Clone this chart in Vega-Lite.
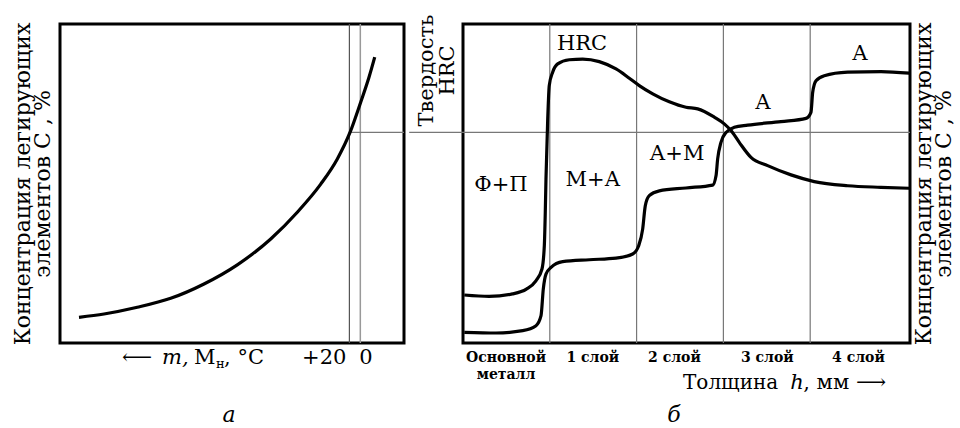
{
  "$schema": "https://vega.github.io/schema/vega-lite/v6.json",
  "padding": {"left": 9, "top": 12, "right": 0, "bottom": 0},
  "spacing": 0,
  "config": {
    "font": "DejaVu Serif",
    "view": {"stroke": "black", "strokeWidth": 3},
    "axis": {"domain": false, "ticks": false, "grid": false, "labelColor": "black", "titleColor": "black", "titleFontWeight": "normal", "titleFont": "DejaVu Serif", "labelFont": "DejaVu Serif"},
    "text": {"font": "DejaVu Serif", "color": "black"}
  },
  "hconcat": [
    {
      "width": 344,
      "height": 319,
      "layer": [
        {
          "data": {"values": [{}]},
          "mark": {"type": "rule", "color": "#555", "strokeWidth": 1.2},
          "encoding": {"x": {"datum": 20, "type": "quantitative", "scale": {"domain": [550, -80], "nice": false, "zero": false}, "axis": null}}
        },
        {
          "data": {"values": [{}]},
          "mark": {"type": "rule", "color": "#999", "strokeWidth": 1.5},
          "encoding": {"x": {"datum": 0, "type": "quantitative", "axis": null}}
        },
        {
          "data": {"values": [{}]},
          "mark": {"type": "rule", "color": "#777", "strokeWidth": 1.2},
          "encoding": {
            "x": {"datum": 20, "type": "quantitative", "axis": null},
            "x2": {"datum": -80},
            "y": {"datum": 66, "type": "quantitative"}
          }
        },
        {
          "data": {"values": [
            {"t": 515.2, "c": 8.06}, {"t": 469.4, "c": 9.09}, {"t": 408.4, "c": 11.19}, {"t": 347.3, "c": 14.0},
            {"t": 286.3, "c": 18.5}, {"t": 225.3, "c": 24.5}, {"t": 164.1, "c": 32.6}, {"t": 115.4, "c": 41.0},
            {"t": 72.5, "c": 49.8}, {"t": 42.1, "c": 57.7}, {"t": 18.9, "c": 66.0}, {"t": -0.7, "c": 75.5},
            {"t": -15.9, "c": 83.3}, {"t": -26.4, "c": 89.6}
          ]},
          "mark": {"type": "line", "interpolate": "monotone", "color": "black", "strokeWidth": 3.2},
          "encoding": {
            "x": {"field": "t", "type": "quantitative", "axis": null},
            "y": {"field": "c", "type": "quantitative", "scale": {"domain": [0, 100], "nice": false},
                  "axis": {"title": ["Концентрация легирующих", "элементов C , %"], "labels": false, "titleFontSize": 22, "titleLineHeight": 20, "titlePadding": 6}},
            "order": {"field": "t", "sort": "descending"}
          }
        },
        {
          "data": {"values": [{}]},
          "mark": {"type": "text", "text": "+20", "fontSize": 21, "align": "right", "baseline": "alphabetic", "dx": -3},
          "encoding": {"x": {"datum": 20, "type": "quantitative", "axis": null}, "y": {"datum": -6.6, "type": "quantitative"}}
        },
        {
          "data": {"values": [{}]},
          "mark": {"type": "text", "text": "0", "fontSize": 21, "align": "left", "baseline": "alphabetic", "dx": -1},
          "encoding": {"x": {"datum": 0, "type": "quantitative", "axis": null}, "y": {"datum": -6.6, "type": "quantitative"}}
        },
        {
          "data": {"values": [{}]},
          "mark": {"type": "text", "text": "⟵", "fontSize": 21, "align": "left", "baseline": "alphabetic"},
          "encoding": {"x": {"datum": 436.4, "type": "quantitative", "axis": null}, "y": {"datum": -6.6, "type": "quantitative"}}
        },
        {
          "data": {"values": [{}]},
          "mark": {"type": "text", "text": "m,", "fontSize": 21, "fontStyle": "italic", "align": "left", "baseline": "alphabetic"},
          "encoding": {"x": {"datum": 363.2, "type": "quantitative", "axis": null}, "y": {"datum": -6.6, "type": "quantitative"}}
        },
        {
          "data": {"values": [{}]},
          "mark": {"type": "text", "text": "M", "fontSize": 21, "align": "left", "baseline": "alphabetic"},
          "encoding": {"x": {"datum": 304.5, "type": "quantitative", "axis": null}, "y": {"datum": -6.6, "type": "quantitative"}}
        },
        {
          "data": {"values": [{}]},
          "mark": {"type": "text", "text": "н", "fontSize": 13, "align": "left", "baseline": "alphabetic"},
          "encoding": {"x": {"datum": 264.3, "type": "quantitative", "axis": null}, "y": {"datum": -7.8, "type": "quantitative"}}
        },
        {
          "data": {"values": [{}]},
          "mark": {"type": "text", "text": ", °C", "fontSize": 21, "align": "left", "baseline": "alphabetic"},
          "encoding": {"x": {"datum": 249.6, "type": "quantitative", "axis": null}, "y": {"datum": -6.6, "type": "quantitative"}}
        },
        {
          "data": {"values": [{}]},
          "mark": {"type": "text", "text": "а", "fontSize": 22, "fontStyle": "italic", "align": "center", "baseline": "alphabetic"},
          "encoding": {"x": {"datum": 240.5, "type": "quantitative", "axis": null}, "y": {"datum": -24.8, "type": "quantitative"}}
        }
      ]
    },
    {
      "width": 447,
      "height": 319,
      "layer": [
        {
          "data": {"values": [{"h": 1}, {"h": 2}, {"h": 3}, {"h": 4}]},
          "mark": {"type": "rule", "color": "#777", "strokeWidth": 1.2},
          "encoding": {"x": {"field": "h", "type": "quantitative", "scale": {"domain": [0, 5.15], "nice": false}}}
        },
        {
          "data": {"values": [{}]},
          "mark": {"type": "rule", "color": "#777", "strokeWidth": 1.2, "clip": false},
          "encoding": {
            "x": {"datum": -0.62, "type": "quantitative"},
            "x2": {"datum": 5.15},
            "y": {"datum": 66, "type": "quantitative", "scale": {"domain": [0, 100], "nice": false}, "axis": null}
          }
        },
        {
          "data": {"values": [
            {"h": 0.015, "c": 15.05}, {"h": 0.30, "c": 14.6}, {"h": 0.57, "c": 15.4}, {"h": 0.73, "c": 16.9},
            {"h": 0.84, "c": 19.5}, {"h": 0.91, "c": 23.2}, {"h": 0.937, "c": 30.5}, {"h": 0.948, "c": 41.0},
            {"h": 0.956, "c": 51.4}, {"h": 0.976, "c": 70.2}, {"h": 0.994, "c": 80.7}, {"h": 1.033, "c": 84.9},
            {"h": 1.091, "c": 87.5}, {"h": 1.225, "c": 88.8}, {"h": 1.379, "c": 89.0}, {"h": 1.570, "c": 88.2},
            {"h": 1.763, "c": 85.9}, {"h": 1.916, "c": 83.0}, {"h": 2.031, "c": 80.7}, {"h": 2.186, "c": 78.1},
            {"h": 2.377, "c": 75.6}, {"h": 2.569, "c": 73.9}, {"h": 2.704, "c": 73.4}, {"h": 2.895, "c": 70.8},
            {"h": 3.010, "c": 68.7}, {"h": 3.088, "c": 66.6}, {"h": 3.183, "c": 62.9}, {"h": 3.318, "c": 58.2},
            {"h": 3.510, "c": 55.6}, {"h": 3.779, "c": 52.7}, {"h": 4.047, "c": 50.6}, {"h": 4.432, "c": 49.3},
            {"h": 4.816, "c": 48.8}, {"h": 5.142, "c": 48.5}
          ]},
          "mark": {"type": "line", "interpolate": "monotone", "color": "black", "strokeWidth": 3.2},
          "encoding": {
            "x": {"field": "h", "type": "quantitative",
                  "axis": {"values": [0.49, 1.49, 2.43, 3.5, 4.55],
                           "labelExpr": "datum.value < 1 ? ['Основной', 'металл'] : datum.value < 2 ? '1 слой' : datum.value < 3 ? '2 слой' : datum.value < 4 ? '3 слой' : '4 слой'",
                           "labelFontSize": 14, "labelFontWeight": "bold", "labelPadding": 7, "labelLineHeight": 17,
                           "labelFlush": false, "labelOverlap": false, "labelBound": false, "title": null}},
            "y": {"field": "c", "type": "quantitative",
                  "axis": {"orient": "left", "title": ["Твердость", "HRC"], "labels": false, "titleFontSize": 21, "titleLineHeight": 21, "titlePadding": 6, "titleY": 46, "titleAlign": "center"}}
          }
        },
        {
          "data": {"values": [
            {"h": 0.015, "c": 3.35}, {"h": 0.38, "c": 3.13}, {"h": 0.688, "c": 3.86}, {"h": 0.841, "c": 5.42},
            {"h": 0.899, "c": 8.56}, {"h": 0.925, "c": 16.9}, {"h": 0.956, "c": 21.6}, {"h": 1.014, "c": 23.7},
            {"h": 1.149, "c": 25.5}, {"h": 1.455, "c": 26.1}, {"h": 1.763, "c": 26.6}, {"h": 1.955, "c": 27.9},
            {"h": 2.024, "c": 30.5}, {"h": 2.070, "c": 35.7}, {"h": 2.100, "c": 43.0}, {"h": 2.146, "c": 46.2},
            {"h": 2.262, "c": 47.7}, {"h": 2.569, "c": 48.6}, {"h": 2.877, "c": 49.5}, {"h": 2.915, "c": 52.4},
            {"h": 2.934, "c": 57.7}, {"h": 2.972, "c": 62.9}, {"h": 3.030, "c": 66.0}, {"h": 3.126, "c": 67.6},
            {"h": 3.280, "c": 68.3}, {"h": 3.664, "c": 69.4}, {"h": 3.952, "c": 70.4}, {"h": 4.009, "c": 72.3},
            {"h": 4.029, "c": 78.6}, {"h": 4.067, "c": 82.2}, {"h": 4.162, "c": 83.8}, {"h": 4.432, "c": 84.9},
            {"h": 4.816, "c": 85.1}, {"h": 5.142, "c": 84.6}
          ]},
          "mark": {"type": "line", "interpolate": "monotone", "color": "black", "strokeWidth": 3.2},
          "encoding": {
            "x": {"field": "h", "type": "quantitative"},
            "y": {"field": "c", "type": "quantitative",
                  "axis": {"orient": "right", "title": ["Концентрация легирующих", "элементов C , %"], "labels": false, "titleFontSize": 22, "titleLineHeight": 20, "titlePadding": -17, "titleAngle": 270, "titleBaseline": "top"}}
          }
        },
        {
          "data": {"values": [
            {"h": 1.371, "c": 93.7, "label": "HRC"},
            {"h": 0.438, "c": 49.5, "label": "Ф+П"},
            {"h": 1.498, "c": 51.1, "label": "М+А"},
            {"h": 2.465, "c": 59.2, "label": "А+М"},
            {"h": 3.456, "c": 75.2, "label": "А"},
            {"h": 4.574, "c": 90.6, "label": "А"}
          ]},
          "mark": {"type": "text", "fontSize": 21, "align": "center", "baseline": "middle"},
          "encoding": {
            "x": {"field": "h", "type": "quantitative"},
            "y": {"field": "c", "type": "quantitative", "axis": null},
            "text": {"field": "label"}
          }
        },
        {
          "data": {"values": [{}]},
          "mark": {"type": "text", "text": "Толщина", "fontSize": 20, "align": "left", "baseline": "alphabetic"},
          "encoding": {"x": {"datum": 2.535, "type": "quantitative"}, "y": {"datum": -14.4, "type": "quantitative", "axis": null}}
        },
        {
          "data": {"values": [{}]},
          "mark": {"type": "text", "text": "h", "fontSize": 21, "fontStyle": "italic", "align": "left", "baseline": "alphabetic"},
          "encoding": {"x": {"datum": 3.77, "type": "quantitative"}, "y": {"datum": -14.4, "type": "quantitative", "axis": null}}
        },
        {
          "data": {"values": [{}]},
          "mark": {"type": "text", "text": ", мм ⟶", "fontSize": 21, "align": "left", "baseline": "alphabetic"},
          "encoding": {"x": {"datum": 3.92, "type": "quantitative"}, "y": {"datum": -14.4, "type": "quantitative", "axis": null}}
        },
        {
          "data": {"values": [{}]},
          "mark": {"type": "text", "text": "б", "fontSize": 22, "fontStyle": "italic", "align": "center", "baseline": "alphabetic"},
          "encoding": {"x": {"datum": 2.43, "type": "quantitative"}, "y": {"datum": -24.8, "type": "quantitative", "axis": null}}
        }
      ],
      "resolve": {"axis": {"y": "independent"}}
    }
  ]
}
